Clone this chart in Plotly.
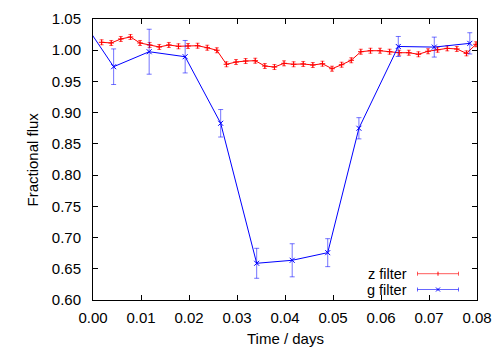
import plotly.graph_objects as go

# z filter (red) data
z_time = [0.0018, 0.0038, 0.0058, 0.0078, 0.0098, 0.0118, 0.0138, 0.0158, 0.0178, 0.0198,
          0.0218, 0.0238, 0.0258, 0.0278, 0.0298, 0.0318, 0.0338, 0.0358, 0.0378, 0.0398,
          0.0418, 0.0438, 0.0458, 0.0478, 0.0498, 0.0518, 0.0538, 0.0558, 0.0578, 0.0598,
          0.0618, 0.0638, 0.0658, 0.0678, 0.0698, 0.0718, 0.0738, 0.0758, 0.0778, 0.0798]
z_flux = [1.0127, 1.0116, 1.0180, 1.0212, 1.0116, 1.0084, 1.0052, 1.0084, 1.0063, 1.0068,
          1.0072, 1.0040, 0.9999, 0.9775, 0.9811, 0.9827, 0.9832, 0.9747, 0.9731, 0.9790,
          0.9775, 0.9780, 0.9763, 0.9784, 0.9704, 0.9768, 0.9839, 0.9976, 0.9992, 0.9992,
          0.9976, 0.9960, 0.9960, 0.9935, 0.9983, 1.0008, 1.0030, 1.0020, 0.9950, 1.0095]
z_err = [0.004] * len(z_time)

# g filter (blue) data
g_time = [-0.0030, 0.0043, 0.0117, 0.0192, 0.0266, 0.0341, 0.0415, 0.0489, 0.0554, 0.0636, 0.0711, 0.0785]
g_flux = [1.057, 0.9736, 0.9976, 0.9896, 0.8830, 0.6588, 0.6636, 0.6758, 0.8750, 1.0060, 1.0050, 1.0110]
g_err = [0.020, 0.0285, 0.0360, 0.0260, 0.0220, 0.0240, 0.0265, 0.0224, 0.0170, 0.0160, 0.0160, 0.0170]

x_ticks = [0.00, 0.01, 0.02, 0.03, 0.04, 0.05, 0.06, 0.07, 0.08]
y_ticks = [0.60, 0.65, 0.70, 0.75, 0.80, 0.85, 0.90, 0.95, 1.00, 1.05]

W, H = 500, 350
ML, MR, MT, MB = 93, 23, 19, 50
PW, PH = W - ML - MR, H - MT - MB

FONT = "Liberation Sans, Arial, Helvetica, sans-serif"
RED = "#ff0000"
BLUE = "#0000ff"

fig = go.Figure()
fig.add_trace(go.Scatter(
    x=z_time, y=z_flux, mode="lines+markers", name="z filter",
    line=dict(color=RED, width=1),
    marker=dict(symbol="cross-thin", size=4, line=dict(color=RED, width=1)),
    error_y=dict(type="data", array=z_err, color="rgba(255,0,0,0.6)", thickness=1, width=2),
    showlegend=False,
))
fig.add_trace(go.Scatter(
    x=g_time, y=g_flux, mode="lines+markers", name="g filter",
    line=dict(color=BLUE, width=1),
    marker=dict(symbol="x-thin", size=5, line=dict(color=BLUE, width=1)),
    error_y=dict(type="data", array=g_err, color="rgba(0,0,255,0.55)", thickness=1, width=2.5),
    showlegend=False,
))

def px2paper(px, py):
    return (px - ML) / PW, (H - MB - py) / PH

# manual gnuplot-style legend
shapes = []
annotations = []
for label, col, py, mk in [("z filter", RED, 273.7, "+"), ("g filter", BLUE, 289.5, "x")]:
    tx, ty = px2paper(409, py)
    annotations.append(dict(x=tx, y=ty, xref="paper", yref="paper", text=label,
                            showarrow=False, xanchor="right", yanchor="middle",
                            font=dict(family=FONT, size=14.5, color="black")))
    x0, y0 = px2paper(417.5, py)
    x1, _ = px2paper(458.5, py)
    _, ya = px2paper(0, py - 2)
    _, yb = px2paper(0, py + 2)
    lc = "rgba(255,0,0,0.65)" if col == RED else "rgba(0,0,255,0.6)"
    shapes.append(dict(type="line", xref="paper", yref="paper", x0=x0, x1=x1, y0=y0, y1=y0,
                       line=dict(color=lc, width=1)))
    for xx in (x0, x1):
        shapes.append(dict(type="line", xref="paper", yref="paper", x0=xx, x1=xx, y0=ya, y1=yb,
                           line=dict(color=lc, width=1)))
    xc, _ = px2paper(438, py)
    if mk == "+":
        shapes.append(dict(type="line", xref="paper", yref="paper", x0=xc, x1=xc, y0=ya, y1=yb,
                           line=dict(color=col, width=1)))
    else:
        xl, _ = px2paper(436, py)
        xr, _ = px2paper(440, py)
        shapes.append(dict(type="line", xref="paper", yref="paper", x0=xl, x1=xr, y0=ya, y1=yb,
                           line=dict(color=col, width=1)))
        shapes.append(dict(type="line", xref="paper", yref="paper", x0=xl, x1=xr, y0=yb, y1=ya,
                           line=dict(color=col, width=1)))

# axis titles as annotations for precise placement
ytx, _ = px2paper(32, 0)
annotations.append(dict(x=ytx, y=0.5, xref="paper", yref="paper", text="Fractional flux",
                        textangle=-90, showarrow=False, xanchor="center", yanchor="middle",
                        font=dict(family=FONT, size=15, color="black")))
_, xty = px2paper(0, 338)
annotations.append(dict(x=0.5, y=xty, xref="paper", yref="paper", text="Time / days",
                        showarrow=False, xanchor="center", yanchor="middle",
                        font=dict(family=FONT, size=15, color="black")))

axis_common = dict(
    showline=True, linecolor="black", linewidth=1, mirror="ticks",
    ticks="inside", ticklen=5, tickcolor="black", tickwidth=1,
    showgrid=False, zeroline=False, automargin=False,
    tickfont=dict(family=FONT, size=15, color="black"),
)

fig.update_layout(
    width=W, height=H,
    margin=dict(l=ML, r=MR, t=MT, b=MB),
    paper_bgcolor="white", plot_bgcolor="white",
    font=dict(family=FONT, size=15, color="black"),
    xaxis=dict(range=[0, 0.08], tickvals=x_ticks, ticktext=[f"{v:.2f}" for v in x_ticks],
               ticklabelstandoff=4, **axis_common),
    yaxis=dict(range=[0.60, 1.05], tickvals=y_ticks, ticktext=[f"{v:.2f}" for v in y_ticks],
               ticklabelstandoff=8, **axis_common),
    shapes=shapes, annotations=annotations,
)

fig.write_html("out.html", config={"displayModeBar": False},
               post_script="document.body.style.margin='0px';")
